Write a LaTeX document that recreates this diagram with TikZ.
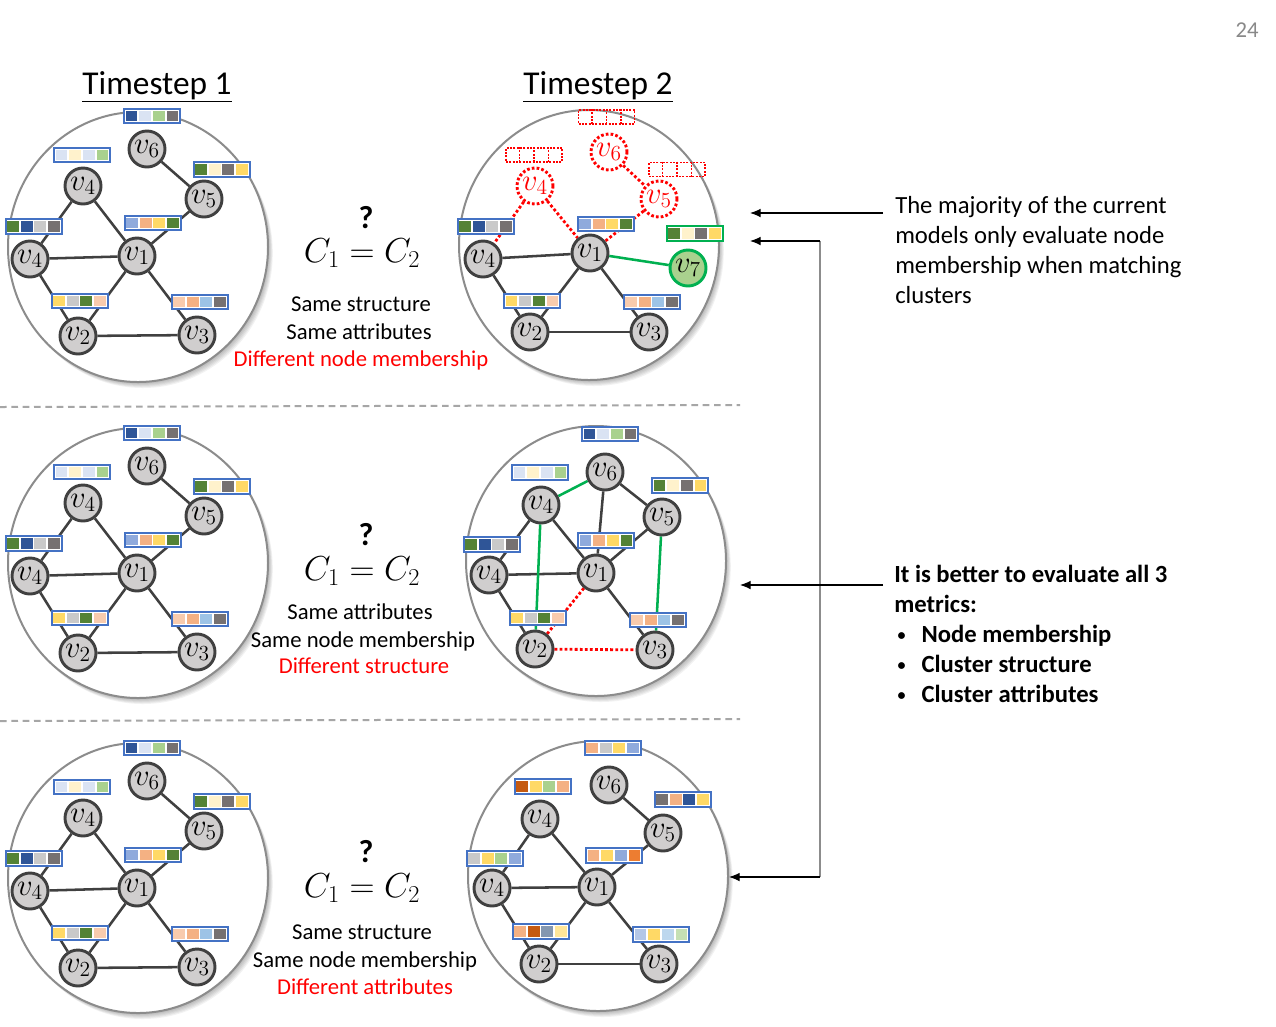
\documentclass[tikz,border=0pt]{standalone}
\usepackage{fix-cm}
\usepackage{fontspec}
\setmainfont{Carlito}
\usetikzlibrary{calc,arrows.meta}
\definecolor{dblue}{HTML}{2F5597}
\definecolor{lblue}{HTML}{DAE3F3}
\definecolor{lgreen}{HTML}{A9D18E}
\definecolor{dgray}{HTML}{767171}
\definecolor{dgreen}{HTML}{548235}
\definecolor{lyellow}{HTML}{FFF2CC}
\definecolor{yel}{HTML}{FFD966}
\definecolor{silv}{HTML}{C9C9C9}
\definecolor{mblue}{HTML}{8FAADC}
\definecolor{salm}{HTML}{F4B183}
\definecolor{peach}{HTML}{F8CBAD}
\definecolor{sky}{HTML}{9DC3E6}
\definecolor{rust}{HTML}{C55A11}
\definecolor{orng}{HTML}{ED7D31}
\definecolor{slate}{HTML}{8497B0}
\definecolor{lyelb}{HTML}{FFE699}
\definecolor{pblue}{HTML}{B4C7E7}
\definecolor{bblue}{HTML}{BDD7EE}
\definecolor{pgreen}{HTML}{C5E0B4}
\definecolor{frameblue}{HTML}{4472C4}
\definecolor{nodefill}{HTML}{D0CECE}
\definecolor{edgecol}{HTML}{404040}
\definecolor{ggreen}{HTML}{00B050}
\definecolor{rimgray}{HTML}{8C8C8C}
\definecolor{sepgray}{HTML}{A6A6A6}
\definecolor{pagegray}{HTML}{898989}

\newcommand\cellbox[1]{\textcolor{#1}{\rule{8.8pt}{8.2pt}}}
\newcommand\cells[4]{\cellbox{#1}\hspace{1.4pt}\cellbox{#2}\hspace{1.4pt}\cellbox{#3}\hspace{1.4pt}\cellbox{#4}}
\newcommand\bul{\makebox[20.5pt][l]{\hspace{2.5pt}\raisebox{1.5pt}{\fontsize{12}{12}\selectfont •}}}

\pgfdeclarelayer{bg}\pgfdeclarelayer{edges}\pgfsetlayers{bg,edges,main}

\tikzset{
  gnode/.style={circle, draw=edgecol, fill=nodefill, line width=2.2pt, minimum size=27pt, inner sep=0pt, font=\fontsize{23}{23}\selectfont},
  rnode/.style={circle, draw=red, fill=white, dash pattern=on 2pt off 1.6pt, line width=2.2pt, minimum size=27pt, inner sep=0pt, text=red, font=\fontsize{23}{23}\selectfont},
  vsevennode/.style={gnode, draw=ggreen, fill=lgreen},
  gedge/.style={draw=edgecol, line width=1.9pt},
  greenedge/.style={draw=ggreen, line width=1.9pt},
  redge/.style={draw=red, line width=2.1pt, dash pattern=on 2.1pt off 1.7pt},
  attr/.style={draw=frameblue, line width=1.5pt, fill=white, inner sep=1.3pt},
  attrg/.style={attr, draw=ggreen},
  rbox/.style={draw=red, dash pattern=on 1.5pt off 1pt, line width=1.3pt, minimum width=42pt, minimum height=10.5pt, inner sep=0pt},
  rdiv/.style={draw=red, dash pattern=on 1.5pt off 1pt, line width=1.3pt},
  bigc/.style={draw=rimgray, line width=1.5pt, fill=white},
  lbl/.style={font=\fontsize{17}{17}\selectfont, anchor=base},
  formula/.style={font=\fontsize{26}{26}\selectfont, anchor=base, inner sep=0pt},
  qmark/.style={font=\fontsize{24}{24}\selectfont\bfseries, inner sep=0pt},
  arr/.style={draw=black, line width=0.8pt, -{Latex[length=8pt,width=6.5pt]}},
  vline/.style={draw=rimgray, line width=0.9pt},
  sepline/.style={draw=sepgray, line width=1.5pt, dash pattern=on 5pt off 3.5pt},
}

\newcommand\redbox[2]{%
  \node[rbox] (#1) at (#2) {};
  \foreach \f in {0.25,0.5,0.75}
    \draw[rdiv] ($(#1.north west)!\f!(#1.north east)$) -- ($(#1.south west)!\f!(#1.south east)$);
}
\newcommand\bigcircle[1]{%
  \begin{pgfonlayer}{bg}
    \foreach \k in {1,...,6}
      \fill[black, opacity=0.05] ($(#1)+(\k*0.8,\k*1)$) ellipse [x radius=130, y radius=135];
    \draw[bigc] (#1) ellipse [x radius=130, y radius=135];
  \end{pgfonlayer}
}

\begin{document}
\begin{tikzpicture}[x=0.75pt, y=-0.75pt]
\useasboundingbox (0,0) rectangle (1276,1026);
\begin{pgfonlayer}{bg}
  \fill[white] (0,0) rectangle (1276,1026);
\end{pgfonlayer}

% ---------- titles and page number
\node[font=\fontsize{25}{25}\selectfont, anchor=base] (ts1) at (157,94) {\underline{Timestep 1}};
\node[font=\fontsize{25}{25}\selectfont, anchor=base] (ts2) at (598,94) {\underline{Timestep 2}};
\node[font=\fontsize{17}{17}\selectfont, text=pagegray] (pg) at (1247,30) {24};

% ---------- left panels (timestep 1, identical)
\foreach \p/\dy/\cy in {A/0/247, B/317/563, C/632/878} {
  \coordinate (c\p) at (138,\cy);
  \bigcircle{c\p}
  \begin{scope}[shift={(0,\dy)}]
    \node[gnode] (\p6) at (147,149) {$v_6$};
    \node[gnode] (\p4t) at (83,186) {$v_4$};
    \node[gnode] (\p5) at (204,199) {$v_5$};
    \node[gnode] (\p4l) at (30,259) {$v_4$};
    \node[gnode] (\p1) at (137,256) {$v_1$};
    \node[gnode] (\p2) at (78,336) {$v_2$};
    \node[gnode] (\p3) at (197,335) {$v_3$};
    \node[attr] (\p box6) at (152,116) {\cells{dblue}{lblue}{lgreen}{dgray}};
    \node[attr] (\p box4t) at (82,155) {\cells{lblue}{lyellow}{lblue}{lgreen}};
    \node[attr] (\p box5) at (221.5,169.5) {\cells{dgreen}{lyellow}{dgray}{yel}};
    \node[attr] (\p box4l) at (33.5,226.5) {\cells{dgreen}{dblue}{silv}{dgray}};
    \node[attr] (\p box1) at (152.5,223) {\cells{mblue}{salm}{yel}{dgreen}};
    \node[attr] (\p box2) at (79.5,301) {\cells{yel}{silv}{dgreen}{peach}};
    \node[attr] (\p box3) at (199.5,302) {\cells{peach}{salm}{sky}{dgray}};
  \end{scope}
  \begin{pgfonlayer}{edges}
    \foreach \u/\v in {6/5, 4t/4l, 4t/1, 4l/1, 1/5, 4l/2, 1/2, 1/3, 2/3}
      \draw[gedge] (\p\u) -- (\p\v);
  \end{pgfonlayer}
}

% ---------- top right panel
\coordinate (cT) at (589,245);
\bigcircle{cT}
\node[gnode] (T4l) at (483,259) {$v_4$};
\node[gnode] (T1) at (590,253) {$v_1$};
\node[vsevennode] (T7) at (688,268) {$v_7$};
\node[gnode] (T2) at (530,332) {$v_2$};
\node[gnode] (T3) at (649,332) {$v_3$};
\node[rnode] (Tr4) at (535,186) {$v_4$};
\node[rnode] (Tr6) at (609,152) {$v_6$};
\node[rnode] (Tr5) at (659,199) {$v_5$};
\redbox{Trbox6}{606.5,117}
\redbox{Trbox4}{534,155}
\redbox{Trbox5}{677,169.5}
\node[attr] (Tbox4l) at (485.5,226.5) {\cells{dgreen}{dblue}{silv}{dgray}};
\node[attr] (Tbox1) at (605.5,224) {\cells{mblue}{salm}{yel}{dgreen}};
\node[attrg] (Tbox7) at (694.5,233.5) {\cells{dgreen}{lyellow}{dgray}{yel}};
\node[attr] (Tbox2) at (532,301) {\cells{yel}{silv}{dgreen}{peach}};
\node[attr] (Tbox3) at (651.5,302) {\cells{peach}{salm}{sky}{dgray}};
\begin{pgfonlayer}{edges}
  \foreach \u/\v in {4l/1, 4l/2, 1/2, 1/3, 2/3}
    \draw[gedge] (T\u) -- (T\v);
  \draw[greenedge] (T1) -- (T7);
  \foreach \u/\v in {r4/4l, r4/1, r6/r5, r5/1}
    \draw[redge] (T\u) -- (T\v);
\end{pgfonlayer}

% ---------- middle right panel
\coordinate (cM) at (596,561);
\bigcircle{cM}
\node[gnode] (M6) at (605,472) {$v_6$};
\node[gnode] (M4t) at (541,505) {$v_4$};
\node[gnode] (M5) at (662,517) {$v_5$};
\node[gnode] (M4l) at (489,575) {$v_4$};
\node[gnode] (M1) at (596,573) {$v_1$};
\node[gnode] (M2) at (535,649) {$v_2$};
\node[gnode] (M3) at (655,650) {$v_3$};
\node[attr] (Mbox6) at (610,434) {\cells{dblue}{lblue}{lgreen}{dgray}};
\node[attr] (Mbox4t) at (540,472.5) {\cells{lblue}{lyellow}{lblue}{lgreen}};
\node[attr] (Mbox5) at (680,485.5) {\cells{dgreen}{lyellow}{dgray}{yel}};
\node[attr] (Mbox4l) at (491.5,544.5) {\cells{dgreen}{dblue}{silv}{dgray}};
\node[attr] (Mbox1) at (606,540.5) {\cells{mblue}{salm}{yel}{dgreen}};
\node[attr] (Mbox2) at (537.5,618) {\cells{yel}{silv}{dgreen}{peach}};
\node[attr] (Mbox3) at (657.5,620) {\cells{peach}{salm}{sky}{dgray}};
\begin{pgfonlayer}{edges}
  \foreach \u/\v in {4t/4l, 4t/1, 4l/1, 4l/2, 6/1, 6/5, 1/5, 1/3}
    \draw[gedge] (M\u) -- (M\v);
  \foreach \u/\v in {4t/6, 4t/2, 5/3}
    \draw[greenedge] (M\u) -- (M\v);
  \foreach \u/\v in {1/2, 2/3}
    \draw[redge] (M\u) -- (M\v);
\end{pgfonlayer}

% ---------- bottom right panel
\coordinate (cR) at (598,876);
\bigcircle{cR}
\node[gnode] (R6) at (609,785) {$v_6$};
\node[gnode] (R4t) at (540,819) {$v_4$};
\node[gnode] (R5) at (663,833) {$v_5$};
\node[gnode] (R4l) at (492,888) {$v_4$};
\node[gnode] (R1) at (597,887) {$v_1$};
\node[gnode] (R2) at (539,964) {$v_2$};
\node[gnode] (R3) at (659,964) {$v_3$};
\node[attr] (Rbox6) at (612.5,748) {\cells{salm}{silv}{yel}{mblue}};
\node[attr] (Rbox4t) at (542.5,786.5) {\cells{rust}{yel}{lgreen}{salm}};
\node[attr] (Rbox5) at (682.5,799.5) {\cells{dgray}{salm}{dblue}{yel}};
\node[attr] (Rbox4l) at (494.5,858.5) {\cells{silv}{yel}{lgreen}{mblue}};
\node[attr] (Rbox1) at (614,855.5) {\cells{salm}{yel}{mblue}{orng}};
\node[attr] (Rbox2) at (540.5,931.5) {\cells{salm}{rust}{slate}{lyelb}};
\node[attr] (Rbox3) at (661,934.5) {\cells{pblue}{yel}{bblue}{pgreen}};
\begin{pgfonlayer}{edges}
  \foreach \u/\v in {6/5, 4t/4l, 4t/1, 4l/1, 1/5, 4l/2, 1/2, 1/3, 2/3}
    \draw[gedge] (R\u) -- (R\v);
\end{pgfonlayer}

% ---------- comparison formulas and captions
\node[formula] (f1) at (362,262) {$C_1 = C_2$};
\node[qmark] (q1) at (366,218) {?};
\node[lbl] (s1a) at (361,311) {Same structure};
\node[lbl] (s1b) at (359,339) {Same attributes};
\node[lbl, text=red] (s1c) at (361,366) {Different node membership};

\node[formula] (f2) at (362,580) {$C_1 = C_2$};
\node[qmark] (q2) at (366,535) {?};
\node[lbl] (s2a) at (360,619) {Same attributes};
\node[lbl] (s2b) at (363,647) {Same node membership};
\node[lbl, text=red] (s2c) at (364,673) {Different structure};

\node[formula] (f3) at (362,897) {$C_1 = C_2$};
\node[qmark] (q3) at (366,852) {?};
\node[lbl] (s3a) at (362,939) {Same structure};
\node[lbl] (s3b) at (365,967) {Same node membership};
\node[lbl, text=red] (s3c) at (365,994) {Different attributes};

% ---------- separators
\coordinate (sepA1) at (0,407); \coordinate (sepA2) at (740,405);
\coordinate (sepB1) at (0,721); \coordinate (sepB2) at (740,719);
\draw[sepline] (sepA1) -- (sepA2);
\draw[sepline] (sepB1) -- (sepB2);

% ---------- right notes
\node[anchor=base west, inner sep=0pt, font=\fontsize{18.5}{22.5}\selectfont] (note1) at (895,213)
  {\begin{tabular}[t]{@{}l@{}}The majority of the current\\models only evaluate node\\membership when matching\\clusters\end{tabular}};
\node[anchor=base west, inner sep=0pt, font=\fontsize{18.5}{22.5}\selectfont\bfseries] (note2) at (894,582)
  {\begin{tabular}[t]{@{}l@{}}It is better to evaluate all 3\\metrics:\\\bul Node membership\\\bul Cluster structure\\\bul Cluster attributes\end{tabular}};

% ---------- arrows
\coordinate (n1s) at (883,213); \coordinate (n1e) at (750,213);
\coordinate (j1) at (820,241);  \coordinate (t1) at (750,241);
\coordinate (j3) at (820,877);  \coordinate (t3) at (729,877);
\coordinate (n2s) at (883,585); \coordinate (t2) at (740,585);
\draw[vline] (j1) -- (j3);
\draw[arr] (n1s) -- (n1e);
\draw[arr] (j1) -- (t1);
\draw[arr] (j3) -- (t3);
\draw[arr] (n2s) -- (t2);
\end{tikzpicture}
\end{document}
